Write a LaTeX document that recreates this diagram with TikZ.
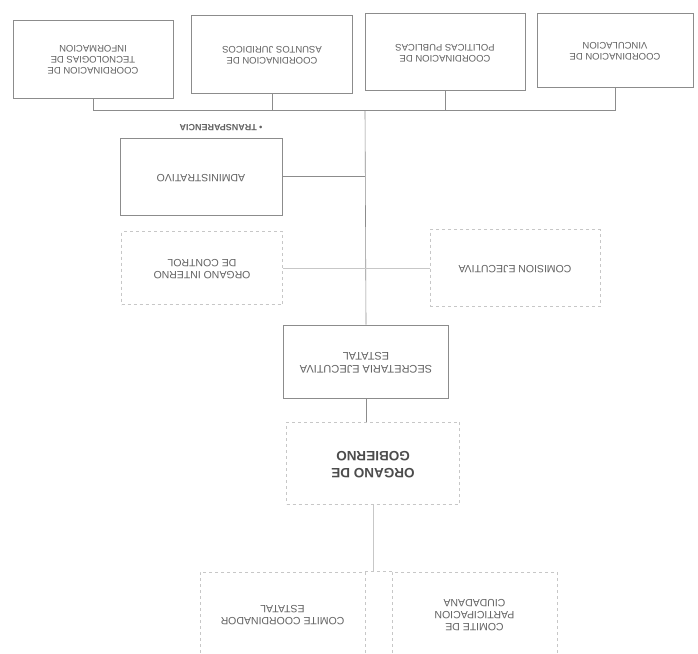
\documentclass[tikz,border=0pt]{standalone}
\usepackage{fontspec}
\usepackage{graphicx}
\setmainfont{Liberation Sans}

\colorlet{boxline}{black!45}
\colorlet{faintline}{black!22}
\colorlet{boxtext}{black!62}

% text printed upside down, first line ends up at the bottom
\newcommand{\flip}[1]{\rotatebox{180}{\begin{tabular}{@{}c@{}}#1\end{tabular}}}

\tikzset{
  orgbox/.style={draw=boxline, line width=0.7pt, text=boxtext, inner sep=0pt,
    font=\fontsize{9.5}{11}\selectfont},
  dashbox/.style={draw=faintline, line width=0.6pt, dash pattern=on 3pt off 3pt,
    text=boxtext, inner sep=0pt, font=\fontsize{10.5}{12}\selectfont},
  conn/.style={draw=boxline, line width=0.6pt},
  faintconn/.style={draw=faintline, line width=0.6pt},
}

\begin{document}
\begin{tikzpicture}[x=1pt,y=-1pt]
  \clip (0,0) rectangle (698,653);
  \fill[white] (0,0) rectangle (698,653);

  % coordinaciones
  \node (tec) at (93,59) [orgbox, minimum width=160pt, minimum height=78pt]
    {\flip{COORDINACION DE\\TECNOLOGIAS DE\\INFORMACION}};
  \node (jur) at (272,54) [orgbox, minimum width=161pt, minimum height=78pt]
    {\flip{COORDINACION DE\\ASUNTOS JURIDICOS}};
  \node (pol) at (445,52) [orgbox, minimum width=160pt, minimum height=77pt]
    {\flip{COORDINACION DE\\POLITICAS PUBLICAS}};
  \node (vin) at (615,50) [orgbox, minimum width=156pt, minimum height=74pt]
    {\flip{COORDINACION DE\\VINCULACION}};

  \coordinate (bus) at (365,110);
  \foreach \n in {tec,jur,pol,vin}
    \draw [conn] (\n.south) |- (bus);

  \node (trans) at (221,128) [text=boxtext, font=\bfseries\fontsize{9}{10}\selectfont]
    {\rotatebox{180}{\textbullet\ TRANSPARENCIA}};
  \node (adm) at (201,176.5) [orgbox, font=\fontsize{10.5}{12}\selectfont,
    minimum width=162pt, minimum height=77pt] {\flip{ADMINISTRATIVO}};

  \node (oic) at (202,268) [dashbox, minimum width=161pt, minimum height=73pt]
    {\flip{ORGANO INTERNO\\DE CONTROL}};
  \node (cej) at (515,268) [dashbox, minimum width=170pt, minimum height=77pt]
    {\flip{COMISION EJECUTIVA}};

  \node (sec) at (366,361.5) [orgbox, font=\fontsize{11}{13}\selectfont,
    minimum width=165pt, minimum height=73pt] {\flip{SECRETARIA EJECUTIVA\\ESTATAL}};

  \draw [conn] (bus) -- (sec.north);
  \draw [conn] (adm.east) -- (adm.east -| bus);
  \draw [faintconn] (oic.east) -- (cej.west);

  % organo de gobierno
  \node (gob) at (373,463) [dashbox, font=\bfseries\fontsize{13.5}{17}\selectfont,
    text=black!70, minimum width=173pt, minimum height=82pt] {\flip{ORGANO DE\\GOBIERNO}};
  \draw [conn] (sec.south) -- (sec.south |- gob.north);

  % comites
  \node (cce) at (282.5,614) [dashbox, minimum width=165pt, minimum height=84pt]
    {\flip{COMITE COORDINADOR\\ESTATAL}};
  \node (cpc) at (474.5,614) [dashbox, minimum width=165pt, minimum height=84pt]
    {\flip{COMITE DE\\PARTICIPACION\\CIUDADANA}};
  \draw [faintconn] (gob.south) -- (gob.south |- cce.north);
  \draw [faintconn, dash pattern=on 3pt off 3pt] (cce.north east) -- (cpc.north west);
\end{tikzpicture}
\end{document}
